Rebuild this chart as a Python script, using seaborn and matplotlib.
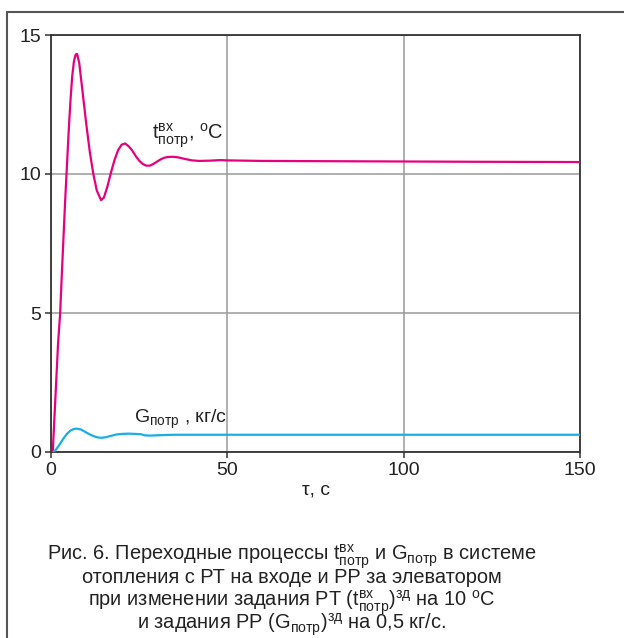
import matplotlib
matplotlib.use("Agg")
import matplotlib.pyplot as plt
import seaborn as sns
import pandas as pd
from matplotlib.lines import Line2D

# ---- data ----
t_time = [0.5, 1.0, 1.5, 2.0, 2.6, 3.0, 3.5, 4.0, 4.4, 5.0, 5.5, 6.0, 6.5, 7.0, 7.4,
          8.0, 9.0, 10.0, 11.0, 12.0, 13.0, 14.2, 15.0, 16.0, 17.0, 18.0, 19.0, 20.0,
          21.0, 22.0, 23.0, 24.0, 25.0, 26.0, 27.0, 28.0, 29.0, 30.0, 31.0, 32.0,
          33.0, 34.5, 36.0, 38.0, 40.0, 42.0, 45.0, 48.0, 50.0, 60.0, 80.0, 100.0,
          120.0, 150.0]
t_vals = [0.0, 1.3, 2.6, 3.9, 5.0, 6.2, 7.6, 9.0, 10.0, 11.5, 12.6, 13.5, 14.05, 14.3, 14.32,
          14.0, 12.9, 11.8, 10.8, 10.0, 9.4, 9.06, 9.15, 9.55, 10.05, 10.5, 10.85, 11.05,
          11.1, 11.0, 10.85, 10.65, 10.48, 10.36, 10.3, 10.3, 10.36, 10.44, 10.52, 10.58,
          10.61, 10.62, 10.6, 10.54, 10.49, 10.47, 10.48, 10.5, 10.49, 10.47, 10.46, 10.45,
          10.44, 10.43]

g_time = [0.7, 1.5, 2.5, 3.5, 4.5, 5.5, 6.5, 7.3, 8.5, 10.0, 11.5, 13.0, 14.2, 15.5,
          17.0, 18.5, 20.0, 22.0, 24.0, 25.5, 26.5, 28.0, 30.0, 32.0, 35.0, 50.0, 100.0, 150.0]
g_vals = [0.0, 0.1, 0.28, 0.48, 0.65, 0.77, 0.83, 0.84, 0.81, 0.7, 0.6, 0.53, 0.51, 0.53,
          0.58, 0.63, 0.65, 0.66, 0.65, 0.64, 0.6, 0.59, 0.6, 0.61, 0.62, 0.62, 0.62, 0.62]

x_ticks = [0, 50, 100, 150]
y_ticks = [0, 5, 10, 15]

PINK = "#E6007E"
BLUE = "#1AAEE6"

sns.set_style("white")
plt.rcParams["font.family"] = ["Liberation Sans", "DejaVu Sans"]
plt.rcParams["mathtext.fontset"] = "custom"
plt.rcParams["mathtext.rm"] = "Liberation Sans"
plt.rcParams["mathtext.it"] = "Liberation Sans"
plt.rcParams["mathtext.bf"] = "Liberation Sans"

df_t = pd.DataFrame({"time": t_time, "value": t_vals})
df_g = pd.DataFrame({"time": g_time, "value": g_vals})

fig = plt.figure(figsize=(6.24, 6.38), dpi=100)
ax = fig.add_axes([51 / 624, 1 - 452 / 638, (580 - 51) / 624, (452 - 35) / 638])

sns.lineplot(data=df_t, x="time", y="value", ax=ax, color=PINK, lw=1.6, zorder=3)
sns.lineplot(data=df_g, x="time", y="value", ax=ax, color=BLUE, lw=1.6, zorder=3)

ax.set_xlim(0, 150)
ax.set_ylim(0, 15)
ax.set_xticks(x_ticks)
ax.set_yticks(y_ticks)
ax.grid(True, color="#9a9a9a", lw=1.1)
ax.set_axisbelow(True)
for s in ax.spines.values():
    s.set_color("#333333")
    s.set_linewidth(1.3)
ax.tick_params(direction="out", length=4, width=1.1, color="#333333",
               labelsize=14, labelcolor="#222222", pad=3,
               bottom=True, left=True)
ax.set_xlabel("τ, с", fontsize=14, color="#222222", labelpad=2)
ax.set_ylabel("")

ax.text(38.8, 11.25, r"$\mathregular{t_{потр}^{вх}}$, $\mathregular{^{o}}$C",
        fontsize=14.5, color="#222222", ha="center", va="baseline")
ax.text(36.8, 1.05, r"$\mathregular{G_{потр}}$ , кг/с",
        fontsize=14, color="#222222", ha="center", va="baseline")

cap_lines = [
    r"Рис. 6. Переходные процессы $\mathregular{t_{потр}^{вх}}$ и $\mathregular{G_{потр}}$ в системе",
    "отопления с РТ на входе и РР за элеватором",
    r"при изменении задания РТ $\mathregular{(t_{потр}^{вх})^{зд}}$ на 10 $\mathregular{^{o}}$C",
    r"и задания РР $\mathregular{(G_{потр})^{зд}}$ на 0,5 кг/с.",
]
baselines = [560, 583, 606, 629]
for line, b in zip(cap_lines, baselines):
    fig.text(292 / 624, 1 - b / 638, line, ha="center", va="baseline",
             fontsize=14.4, color="#222222")

# outer frame (top and left edges)
fig.add_artist(Line2D([6.5 / 624, 6.5 / 624], [0, 1 - 12 / 638],
                      transform=fig.transFigure, color="#555555", lw=1.5))
fig.add_artist(Line2D([6.5 / 624, 1], [1 - 12 / 638, 1 - 12 / 638],
                      transform=fig.transFigure, color="#555555", lw=1.5))

fig.savefig("out.png", dpi=100)
